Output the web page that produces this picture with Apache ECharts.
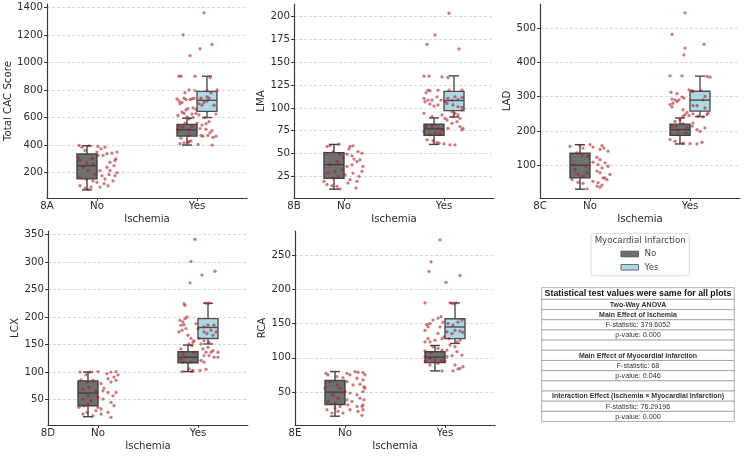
<!DOCTYPE html>
<html><head><meta charset="utf-8">
<script src="https://cdn.jsdelivr.net/npm/echarts@6/dist/echarts.min.js"></script>
<style>html,body{margin:0;padding:0;background:#fff}#c{width:750px;height:457px}</style>
</head><body><div id="c"></div>
<script>
// ---------------- DATA ----------------
const categories = ['No', 'Yes'];            // Ischemia
const hueNames = ['No', 'Yes'];              // Myocardial Infarction
const panelLabels = ['8A', '8B', '8C', '8D', '8E'];
const yTitles = ['Total CAC Score', 'LMA', 'LAD', 'LCX', 'RCA'];
const xTitle = 'Ischemia';
const legendTitle = 'Myocardial Infarction';

// box stats: [ischemiaIndex, min, q1, median, q3, max]
const cacBoxMiNo = [[0, 75, 155, 250, 335, 395], [1, 400, 465, 510, 550, 595]];
const cacBoxMiYes = [[1, 600, 645, 725, 790, 900]];
const lmaBoxMiNo = [[0, 11, 23, 38, 51, 60], [1, 60, 70, 77, 82, 89]];
const lmaBoxMiYes = [[1, 90, 97, 108, 118, 135]];
const ladBoxMiNo = [[0, 30, 63, 100, 135, 160], [1, 162, 187, 204, 220, 238]];
const ladBoxMiYes = [[1, 242, 258, 290, 316, 360]];
const lcxBoxMiNo = [[0, 19, 39, 62, 84, 100], [1, 101, 117, 127, 137, 149]];
const lcxBoxMiYes = [[1, 151, 161, 181, 197, 225]];
const rcaBoxMiNo = [[0, 15, 32, 50, 67, 80], [1, 81, 93, 101, 109, 118]];
const rcaBoxMiYes = [[1, 121, 128, 145, 157, 180]];

// strip points: [jitter (category units), value]
const cacPtsNo = [[-0.18,397],[-0.15,385],[-0.08,395],[0.01,390],[0.04,373],[0.08,385],[0.00,349],[0.10,337],[0.15,341],[0.06,325],[-0.12,361],[-0.05,300],[-0.17,288],[-0.04,263],[0.13,275],[0.17,251],[0.10,239],[0.13,215],[-0.14,240],[-0.09,215],[0.03,215],[-0.02,190],[-0.17,166],[-0.11,154],[0.05,178],[0.08,154],[0.12,185],[0.18,178],[0.16,141],[-0.04,141],[-0.17,105],[-0.12,88],[-0.06,95],[0.00,130],[0.07,120],[0.11,105],[0.03,95],[0.20,200],[0.19,300],[0.01,325],[0.20,349],[0.18,288],[-0.19,310],[-0.10,270],[-0.09,78]];
const cacPtsYes = [[0.07,1360],[-0.14,1200],[0.15,1130],[0.03,1100],[-0.07,1050],[-0.18,900],[-0.16,900],[-0.02,900],[0.13,890],[-0.08,800],[-0.02,795],[0.10,795],[0.20,800],[-0.12,780],[-0.20,735],[-0.18,720],[-0.13,740],[-0.11,730],[-0.07,730],[-0.05,735],[-0.15,710],[-0.17,700],[0.04,740],[0.10,750],[0.12,740],[0.02,700],[0.07,710],[0.10,720],[0.05,690],[-0.04,670],[-0.01,660],[-0.09,665],[-0.11,655],[-0.15,640],[-0.13,630],[-0.01,630],[-0.05,625],[-0.19,615],[-0.10,605],[0.02,620],[0.19,625],[-0.08,590],[-0.04,600],[-0.18,540],[-0.14,530],[-0.05,535],[-0.19,515],[-0.08,510],[0.05,545],[0.09,555],[0.12,570],[0.03,520],[0.09,515],[0.15,505],[0.04,470],[0.06,465],[0.11,470],[0.16,455],[0.19,465],[-0.17,410],[-0.13,415],[-0.09,420],[-0.08,425],[-0.06,430],[0.15,400],[-0.08,470],[0.13,490],[0.00,560],[-0.16,450],[0.08,600],[0.17,690],[-0.03,740],[0.14,780],[-0.12,560],[0.01,405]];

const lmaPtsNo = [[-0.17,57.7],[-0.14,58.8],[-0.05,60.2],[-0.11,52.2],[-0.04,49.7],[0.06,57.7],[0.09,58.4],[0.05,55.1],[0.08,47.5],[0.03,49.3],[0.14,52.2],[0.18,50.4],[0.16,43.2],[0.13,41.3],[0.19,35.9],[0.18,30.4],[0.15,25.0],[-0.19,50.4],[-0.07,41.3],[-0.14,37.7],[-0.09,30.4],[-0.02,32.3],[0.01,26.8],[-0.20,19.6],[-0.17,15.9],[-0.12,14.8],[-0.07,14.1],[0.04,17.7],[0.06,21.4],[0.12,12.3],[0.13,19.6],[0.09,28.6],[0.08,37.7],[-0.01,45.0],[-0.06,25.0],[-0.11,23.2],[-0.16,28.6],[0.10,43.9],[0.03,35.9],[-0.04,11.2]];
const lmaPtsYes = [[0.05,203.6],[-0.09,179.7],[-0.17,169.5],[0.15,164.4],[-0.20,134.7],[-0.15,134.7],[-0.02,133.9],[0.04,133.2],[-0.16,119.4],[-0.18,116.5],[-0.14,118.7],[-0.06,119.4],[-0.20,110.3],[-0.16,108.5],[-0.12,108.5],[-0.07,112.1],[-0.19,106.7],[-0.14,104.2],[-0.10,102.0],[-0.06,103.1],[-0.03,108.5],[0.01,106.7],[0.04,110.3],[0.08,108.5],[0.11,112.1],[0.14,109.2],[0.18,111.4],[0.03,104.9],[0.09,103.1],[0.14,101.3],[0.18,100.5],[0.05,119.4],[0.18,119.4],[0.08,95.8],[0.11,94.0],[0.14,92.2],[0.18,97.6],[-0.20,94.0],[-0.12,90.4],[-0.02,92.2],[0.09,90.4],[0.16,88.5],[0.01,88.5],[0.03,86.7],[-0.18,79.5],[-0.12,80.2],[-0.06,77.6],[-0.02,75.8],[-0.20,74.0],[-0.09,72.9],[-0.04,72.2],[0.08,83.1],[0.13,84.9],[0.16,79.5],[0.19,77.6],[0.18,75.8],[0.04,77.6],[-0.11,63.9],[-0.07,62.0],[-0.05,61.3],[0.00,60.6],[0.06,59.5],[0.11,59.5],[-0.17,65.0],[-0.14,70.4]];

const ladPtsNo = [[-0.20,155],[-0.10,158],[-0.07,150],[0.00,160],[0.03,153],[0.12,157],[0.14,150],[0.10,146],[0.18,141],[-0.13,136],[-0.08,128],[-0.02,126],[0.07,123],[0.10,116],[0.03,109],[0.08,102],[0.12,92],[0.15,107],[0.18,97],[-0.03,78],[-0.15,87],[-0.12,73],[-0.07,68],[0.07,83],[0.10,78],[0.13,63],[0.17,58],[0.20,73],[-0.18,58],[-0.12,50],[-0.07,47],[0.03,53],[0.08,49],[0.12,42],[0.07,39],[0.10,36],[-0.03,31],[0.15,63],[-0.16,102],[-0.04,97]];
const ladPtsYes = [[-0.05,545],[-0.18,482],[-0.05,442],[-0.06,422],[0.14,453],[-0.20,361],[-0.08,361],[0.17,359],[0.20,357],[-0.19,313],[-0.13,309],[-0.01,320],[0.02,318],[0.03,315],[0.11,318],[-0.18,293],[-0.15,291],[-0.11,291],[-0.08,299],[-0.06,296],[-0.17,281],[-0.13,286],[-0.20,277],[-0.18,270],[0.15,301],[0.13,291],[0.03,274],[0.07,274],[-0.07,262],[-0.03,254],[-0.05,248],[-0.01,245],[0.03,250],[0.08,243],[0.13,241],[0.17,248],[0.15,267],[0.18,252],[-0.15,228],[-0.10,233],[-0.07,243],[-0.18,214],[-0.14,215],[-0.07,221],[-0.03,209],[0.03,223],[0.02,214],[0.07,204],[0.10,199],[0.15,209],[-0.12,189],[-0.04,194],[-0.20,175],[-0.15,170],[-0.07,165],[0.00,163],[0.07,162],[0.12,167],[-0.12,201]];

const lcxPtsNo = [[-0.18,100],[-0.12,95],[-0.08,100],[0.00,101],[0.09,97],[0.13,100],[0.18,101],[0.20,95],[0.10,88],[0.16,91],[-0.17,86],[-0.11,82],[-0.05,85],[0.03,79],[0.06,71],[0.13,82],[0.18,85],[-0.15,69],[-0.09,72],[-0.02,66],[0.05,66],[0.10,63],[0.15,57],[0.18,63],[-0.10,57],[-0.15,51],[-0.07,48],[0.00,54],[0.05,51],[0.16,39],[0.13,45],[-0.19,36],[-0.14,39],[-0.10,42],[0.00,36],[0.03,33],[-0.15,24],[-0.11,27],[-0.05,21],[0.03,24],[0.10,27],[0.13,18],[-0.02,30]];
const lcxPtsYes = [[-0.03,341],[-0.07,301],[0.04,276],[0.17,283],[-0.08,262],[-0.14,224],[-0.13,221],[0.08,225],[0.11,225],[-0.18,194],[-0.15,191],[-0.13,197],[-0.11,200],[-0.17,185],[-0.14,186],[-0.02,188],[0.00,179],[0.06,182],[0.10,185],[0.13,176],[0.16,185],[0.06,173],[0.09,170],[0.15,167],[0.18,173],[0.01,161],[0.06,157],[0.11,154],[-0.19,173],[-0.16,176],[-0.12,179],[-0.10,167],[-0.07,161],[-0.05,154],[-0.04,157],[-0.09,151],[-0.06,148],[-0.17,142],[0.03,151],[0.10,145],[-0.04,136],[-0.15,133],[0.05,142],[0.08,136],[0.15,139],[0.20,136],[-0.17,124],[-0.13,127],[-0.15,118],[-0.07,118],[0.03,121],[0.06,118],[0.11,130],[0.16,127],[0.20,127],[-0.09,106],[-0.05,103],[0.02,103],[0.08,105],[-0.16,101],[-0.06,101],[0.06,130],[0.13,136]];

const rcaPtsNo = [[-0.19,77.5],[-0.17,75.1],[-0.08,72.7],[-0.02,71.3],[0.02,77.5],[0.05,75.1],[0.10,80.0],[0.13,79.0],[0.12,70.3],[0.18,78.5],[0.20,75.1],[0.18,67.9],[-0.15,65.5],[-0.08,60.6],[0.02,65.5],[0.08,60.6],[0.15,61.6],[0.19,58.0],[0.20,55.8],[-0.20,55.8],[-0.05,55.8],[0.00,51.0],[0.05,48.6],[0.12,46.1],[0.18,51.0],[-0.12,46.1],[-0.07,41.3],[0.02,38.9],[0.07,36.5],[0.15,41.3],[0.18,31.6],[0.19,38.9],[0.17,29.2],[-0.17,36.5],[-0.10,34.1],[-0.05,29.2],[0.03,31.6],[0.12,29.2],[-0.18,24.4],[-0.13,19.6],[-0.07,22.0],[-0.02,19.6],[0.05,24.4],[0.13,22.0],[0.18,24.4],[0.17,16.2],[-0.10,26.8]];
const rcaPtsYes = [[-0.05,272],[-0.14,240],[-0.16,226],[0.15,220],[0.01,210],[-0.20,180],[0.05,180],[0.08,179],[0.11,180],[-0.04,160],[-0.07,158],[-0.12,155],[-0.15,150],[-0.18,148.6],[-0.17,145],[-0.20,140],[-0.02,152],[-0.05,145],[0.03,150],[0.08,147.6],[0.13,152],[0.17,155],[0.02,138],[0.07,135.5],[0.10,140],[0.15,139],[0.18,137],[-0.01,130.7],[0.04,128],[0.12,123.4],[0.15,125.8],[-0.03,128],[-0.07,135.5],[-0.17,128],[-0.15,123.4],[-0.20,123.4],[-0.10,125.8],[-0.12,116],[-0.07,113.8],[-0.20,110],[-0.14,108],[-0.03,111.3],[0.02,111.3],[0.05,118.6],[0.10,116.2],[-0.20,101.7],[-0.15,99.3],[-0.10,96.9],[-0.03,95.4],[0.02,101.7],[0.07,103.1],[0.12,109],[0.17,104],[0.10,89.6],[0.18,87.2],[0.15,84.8],[0.08,81],[0.13,83.8],[-0.03,81],[-0.20,94.4],[-0.15,89.6],[-0.07,92],[0.00,94.4]];

// y axis ticks and ranges
const cacTicks = [200, 400, 600, 800, 1000, 1200, 1400];
const lmaTicks = [25, 50, 75, 100, 125, 150, 175, 200];
const ladTicks = [100, 200, 300, 400, 500];
const lcxTicks = [50, 100, 150, 200, 250, 300, 350];
const rcaTicks = [50, 100, 150, 200, 250];
const cacRange = [16, 1424];
const lmaRange = [1.35, 213.65];
const ladRange = [4.25, 570.75];
const lcxRange = [4, 356];
const rcaRange = [2.15, 284.85];

// stats table
const statRows = ['Statistical test values were same for all plots', 'Two-Way ANOVA', 'Main Effect of Ischemia', 'F-statistic: 379.6052', 'p-value: 0.000', '', 'Main Effect of Myocardial Infarction', 'F-statistic: 68', 'p-value: 0.046', '', 'Interaction Effect (Ischemia \u00d7 Myocardial Infarction)', 'F-statistic: 76.29196', 'p-value: 0.000'];
const statBold = [true, true, true, false, false, false, true, false, false, false, true, false, false];

// ---------------- LAYOUT / STYLE ----------------
const panels = [
  { boxNo: cacBoxMiNo, boxYes: cacBoxMiYes, ptsNo: cacPtsNo, ptsYes: cacPtsYes, ticks: cacTicks, range: cacRange },
  { boxNo: lmaBoxMiNo, boxYes: lmaBoxMiYes, ptsNo: lmaPtsNo, ptsYes: lmaPtsYes, ticks: lmaTicks, range: lmaRange },
  { boxNo: ladBoxMiNo, boxYes: ladBoxMiYes, ptsNo: ladPtsNo, ptsYes: ladPtsYes, ticks: ladTicks, range: ladRange },
  { boxNo: lcxBoxMiNo, boxYes: lcxBoxMiYes, ptsNo: lcxPtsNo, ptsYes: lcxPtsYes, ticks: lcxTicks, range: lcxRange },
  { boxNo: rcaBoxMiNo, boxYes: rcaBoxMiYes, ptsNo: rcaPtsNo, ptsYes: rcaPtsYes, ticks: rcaTicks, range: rcaRange }
];
const gridPos = [
  { left: 47, top: 4, width: 200, height: 194 },
  { left: 294, top: 4, width: 200, height: 194 },
  { left: 540, top: 4, width: 200, height: 194 },
  { left: 48, top: 231, width: 200, height: 194 },
  { left: 295, top: 231, width: 200, height: 194 }
];
const nameGaps = [33.4, 27.2, 25.9, 26.2, 27.9];

const FONT = 'DejaVu Sans';
const TXT = '#2b2b2b';
const AXIS = '#3a3a3a';
const hueFill = ['#707070', '#add8e6'];
const hueEdge = ['#424242', '#4f4f4f'];
const dotColor = 'rgba(160,30,36,0.72)';

function boxRender(hue) {
  return function (params, api) {
    const cat = api.value(0);
    const x0 = cat + (hue === 0 ? -0.2 : 0);
    const x1 = x0 + 0.2;
    const xm = x0 + 0.1;
    const mn = api.value(1), q1 = api.value(2), md = api.value(3), q3 = api.value(4), mx = api.value(5);
    const c = (x, y) => api.coord([x, y]);
    const st = { stroke: hueEdge[hue], lineWidth: 1.4 };
    const seg = (xa, ya, xb, yb) => {
      const p = c(xa, ya), q = c(xb, yb);
      return { type: 'line', shape: { x1: p[0], y1: p[1], x2: q[0], y2: q[1] }, style: st };
    };
    const tl = c(x0, q3), br = c(x1, q1);
    return {
      type: 'group',
      children: [
        seg(xm, q1, xm, mn),
        seg(xm, q3, xm, mx),
        seg(xm - 0.05, mn, xm + 0.05, mn),
        seg(xm - 0.05, mx, xm + 0.05, mx),
        { type: 'rect', shape: { x: tl[0], y: tl[1], width: br[0] - tl[0], height: br[1] - tl[1] },
          style: { fill: hueFill[hue], stroke: hueEdge[hue], lineWidth: 1.4 } },
        seg(x0, md, x1, md)
      ]
    };
  };
}

const grids = [], xAxes = [], yAxes = [], series = [];
panels.forEach((p, i) => {
  grids.push(Object.assign({ containLabel: false }, gridPos[i]));
  const step = p.ticks[1] - p.ticks[0];
  xAxes.push({
    gridIndex: i, type: 'value', min: -0.5, max: 1.5, minInterval: 1, maxInterval: 1,
    axisLine: { show: true, onZero: false, lineStyle: { color: AXIS, width: 1.2 } },
    axisTick: { show: true, length: 3, customValues: [0, 1], lineStyle: { color: AXIS, width: 1 } },
    axisLabel: {
      customValues: [-0.5, 0, 1], showMinLabel: true, showMaxLabel: true, hideOverlap: false,
      formatter: v => (v < 0 ? panelLabels[i] : categories[Math.round(v)]),
      margin: 3.5, fontSize: 10.2, fontFamily: FONT, color: TXT
    },
    splitLine: { show: false },
    name: xTitle, nameLocation: 'middle', nameGap: 16.5,
    nameTextStyle: { fontSize: 10.2, fontFamily: FONT, color: TXT }
  });
  yAxes.push({
    gridIndex: i, type: 'value', min: p.range[0], max: p.range[1], minInterval: step, maxInterval: step,
    axisLine: { show: true, onZero: false, lineStyle: { color: AXIS, width: 1.2 } },
    axisTick: { show: true, length: 3, customValues: p.ticks, lineStyle: { color: AXIS, width: 1 } },
    axisLabel: { customValues: p.ticks, showMinLabel: true, showMaxLabel: true, hideOverlap: false, margin: 4,
      formatter: v => String(v),
      fontSize: 10.2, fontFamily: FONT, color: TXT },
    splitLine: { show: true, showMinLine: true, showMaxLine: true,
      lineStyle: { color: '#cfcfcf', width: 0.8, type: [3, 2] } },
    name: yTitles[i], nameLocation: 'middle', nameGap: nameGaps[i], nameRotate: 90,
    nameTextStyle: { fontSize: 10.2, fontFamily: FONT, color: TXT }
  });
  series.push({
    type: 'custom', name: hueNames[0], xAxisIndex: i, yAxisIndex: i,
    renderItem: boxRender(0), encode: { x: 0, y: [1, 2, 3, 4, 5] },
    itemStyle: { color: hueFill[0], borderColor: hueEdge[0] },
    data: p.boxNo, z: 2, silent: true
  });
  series.push({
    type: 'custom', name: hueNames[1], xAxisIndex: i, yAxisIndex: i,
    renderItem: boxRender(1), encode: { x: 0, y: [1, 2, 3, 4, 5] },
    itemStyle: { color: hueFill[1], borderColor: hueEdge[1] },
    data: p.boxYes, z: 2, silent: true
  });
  const pts = p.ptsNo.map(d => [0 + d[0], d[1]]).concat(p.ptsYes.map(d => [1 + d[0], d[1]]));
  series.push({
    type: 'scatter', xAxisIndex: i, yAxisIndex: i, symbol: 'circle', symbolSize: 3.3,
    itemStyle: { color: dotColor }, data: pts, z: 5, silent: true
  });
});

// stats table graphic (text content from statRows)
const tbl = { x: 541.7, y: 287.7, w: 192.6, hh: 11.7, rh: 10.18 };
const graphics = [];
graphics.push({ type: 'rect', shape: { x: 591, y: 233.3, width: 98.3, height: 42.4, r: 2.5 },
  style: { fill: '#fff', stroke: '#d6d6d6', lineWidth: 0.9 }, z: 1 });
graphics.push({ type: 'text', x: 640.2, y: 241, style: { text: legendTitle, fill: '#444',
  font: '8.7px "DejaVu Sans"', textAlign: 'center', textVerticalAlign: 'middle' }, z: 2 });
let yy = tbl.y;
statRows.forEach((t, k) => {
  const h = k === 0 ? tbl.hh : tbl.rh;
  graphics.push({ type: 'rect', shape: { x: tbl.x, y: yy, width: tbl.w, height: h },
    style: { fill: '#fff', stroke: '#9a9a9a', lineWidth: 0.8 }, z: 1 });
  if (t) {
    const size = k === 0 ? 8.8 : (statBold[k] ? 7.0 : 7.2);
    graphics.push({ type: 'text', x: tbl.x + tbl.w / 2, y: yy + h / 2 + 0.3,
      style: { text: t, fill: k === 0 ? '#111' : '#333',
        font: (statBold[k] ? 'bold ' : '') + size + 'px "Liberation Sans"',
        textAlign: 'center', textVerticalAlign: 'middle' }, z: 2 });
  }
  yy += h;
});

const chart = echarts.init(document.getElementById('c'), null, { renderer: 'canvas' });
chart.setOption({
  animation: false,
  backgroundColor: '#fff',
  grid: grids, xAxis: xAxes, yAxis: yAxes, series: series,
  legend: {
    data: [
      { name: hueNames[0], icon: 'rect', itemStyle: { color: hueFill[0], borderColor: hueEdge[0], borderWidth: 0.8 } },
      { name: hueNames[1], icon: 'rect', itemStyle: { color: hueFill[1], borderColor: hueEdge[1], borderWidth: 0.8 } }
    ],
    orient: 'vertical', left: 620.5, top: 248.5, padding: 0,
    itemWidth: 17.6, itemHeight: 5.6, itemGap: 2.3, selectedMode: false,
    textStyle: { fontFamily: FONT, fontSize: 8.7, color: '#444', lineHeight: 11, padding: [0, 0, 0, 1] },
    z: 3
  },
  graphic: graphics
});
</script>
</body></html>
